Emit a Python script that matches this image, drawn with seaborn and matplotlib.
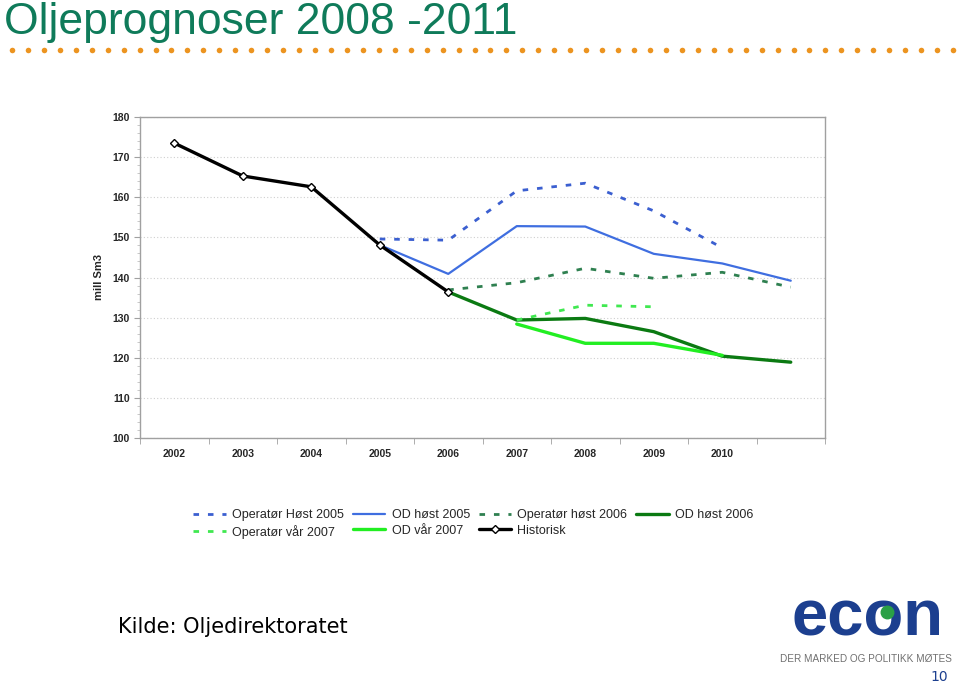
import numpy as np
import pandas as pd
import seaborn as sns
import matplotlib.pyplot as plt
from matplotlib.lines import Line2D
from matplotlib.ticker import MultipleLocator, FixedLocator

years = [2002, 2003, 2004, 2005, 2006, 2007, 2008, 2009, 2010, 2011]
year_labels = ["2002", "2003", "2004", "2005", "2006", "2007", "2008", "2009", "2010", ""]
nan = np.nan

historisk = [173.5, 165.3, 162.6, 148.1, 136.4, nan, nan, nan, nan, nan]
operator_host_2005 = [nan, nan, nan, 149.6, 149.3, 161.6, 163.5, 156.6, 147.4, nan]
od_host_2005 = [nan, nan, nan, 148.1, 140.9, 152.8, 152.7, 145.9, 143.5, 139.2]
operator_host_2006 = [nan, nan, nan, nan, 136.9, 138.7, 142.3, 139.8, 141.3, 137.6]
od_host_2006 = [nan, nan, nan, nan, 136.4, 129.4, 129.8, 126.5, 120.4, 118.9]
operator_var_2007 = [nan, nan, nan, nan, nan, 129.4, 133.1, 132.7, nan, nan]
od_var_2007 = [nan, nan, nan, nan, nan, 128.4, 123.6, 123.6, 120.6, nan]

df = pd.DataFrame({
    "pos": range(len(years)),
    "Operatør Høst 2005": operator_host_2005,
    "OD høst 2005": od_host_2005,
    "Operatør høst 2006": operator_host_2006,
    "OD høst 2006": od_host_2006,
    "Operatør vår 2007": operator_var_2007,
    "OD vår 2007": od_var_2007,
    "Historisk": historisk,
})

# name -> (colour, linestyle, linewidth, marker)
styles = {
    "Operatør Høst 2005": ("#3b5fd0", (0, (2.0, 3.2)), 2.0, None),
    "OD høst 2005": ("#3f6ee0", "-", 1.6, None),
    "Operatør høst 2006": ("#2f8050", (0, (2.0, 3.2)), 2.0, None),
    "OD høst 2006": ("#0b7a12", "-", 2.4, None),
    "Operatør vår 2007": ("#40e850", (0, (2.0, 3.2)), 2.0, None),
    "OD vår 2007": ("#22ee22", "-", 2.4, None),
    "Historisk": ("#000000", "-", 2.4, "D"),
}

sns.set_style("white")
plt.rcParams["font.family"] = ["Liberation Sans", "DejaVu Sans"]

fig = plt.figure(figsize=(9.6, 6.83), dpi=100)
ax = fig.add_axes([140 / 960, 1 - 438 / 683, 685 / 960, 321 / 683])

for name, (col, ls, lw, mk) in styles.items():
    sub = df[["pos", name]].dropna()
    sns.lineplot(data=sub, x="pos", y=name, ax=ax, color=col, linestyle=ls,
                 linewidth=lw, marker=mk, markersize=4.5 if mk else 0,
                 markerfacecolor="white", markeredgecolor="black",
                 markeredgewidth=1.0, label=name, legend=False)

ax.set_xlim(-0.5, len(years) - 0.5)
ax.set_ylim(100, 180)
ax.yaxis.set_major_locator(MultipleLocator(10))
ax.yaxis.set_minor_locator(MultipleLocator(2))
ax.set_xticks(range(len(years)))
ax.set_xticklabels(year_labels)
ax.xaxis.set_minor_locator(FixedLocator(np.arange(-0.5, len(years), 1.0)))
ax.tick_params(axis="x", which="major", length=0, labelsize=7.5, pad=8)
ax.tick_params(axis="x", which="minor", length=4, color="#a0a0a0", direction="out", bottom=True)
ax.tick_params(axis="y", which="major", length=4, labelsize=7.5, color="#a0a0a0", direction="out", left=True)
ax.tick_params(axis="y", which="minor", length=2, color="#c0c0c0", direction="out", left=True)
for lab in ax.get_xticklabels() + ax.get_yticklabels():
    lab.set_fontweight("bold")
ax.grid(axis="y", which="major", linestyle=(0, (1, 2)), color="#cfcfcf", linewidth=0.8)
for sp in ax.spines.values():
    sp.set_color("#a0a0a0")
    sp.set_linewidth(1.0)
ax.set_xlabel("")
ax.set_ylabel("mill Sm3", fontsize=8, fontweight="bold", labelpad=0)
ax.yaxis.set_label_coords(-0.052, 0.5)

# legend: 4 columns, filled column by column
h, l = ax.get_legend_handles_labels()
lut = dict(zip(l, h))
order = ["Operatør Høst 2005", "Operatør vår 2007", "OD høst 2005", "OD vår 2007",
         "Operatør høst 2006", "Historisk", "OD høst 2006"]
fig.legend([lut[k] for k in order], order, ncol=4, frameon=False,
           loc="center", bbox_to_anchor=(0.493, 1 - 524 / 683), fontsize=9,
           handlelength=2.6, handletextpad=0.5, columnspacing=0.7, labelspacing=0.25)

# title and decorations
fig.text(4 / 960, 1 - 34 / 683, "Oljeprognoser 2008 -2011", fontsize=32,
         color="#0f7b5a", va="baseline", ha="left")
dots_x = np.linspace(12 / 960, 953 / 960, 60)
fig.add_artist(Line2D(dots_x, np.full_like(dots_x, 1 - 50 / 683), transform=fig.transFigure,
                      linestyle="none", marker="o", markersize=4, color="#ec9420",
                      markeredgewidth=0))

fig.text(118 / 960, 1 - 627 / 683, "Kilde: Oljedirektoratet", fontsize=15,
         color="#000000", va="center", ha="left", family=["DejaVu Sans"])

fig.text(867 / 960, 1 - 636 / 683, "econ", fontsize=47, fontweight="bold",
         color="#1c3f8f", ha="center", va="baseline")
fig.add_artist(Line2D([887 / 960], [1 - 612 / 683], transform=fig.transFigure,
                      marker="o", markersize=9, color="#2aa046", linestyle="none",
                      zorder=10))
fig.text(866 / 960, 1 - 659 / 683, "DER MARKED OG POLITIKK MØTES", fontsize=7.2,
         color="#707070", ha="center", va="center")
fig.text(948 / 960, 1 - 677 / 683, "10", fontsize=10, color="#1c3f8f",
         ha="right", va="center", family=["DejaVu Sans"])

fig.savefig("out.png", dpi=100)
